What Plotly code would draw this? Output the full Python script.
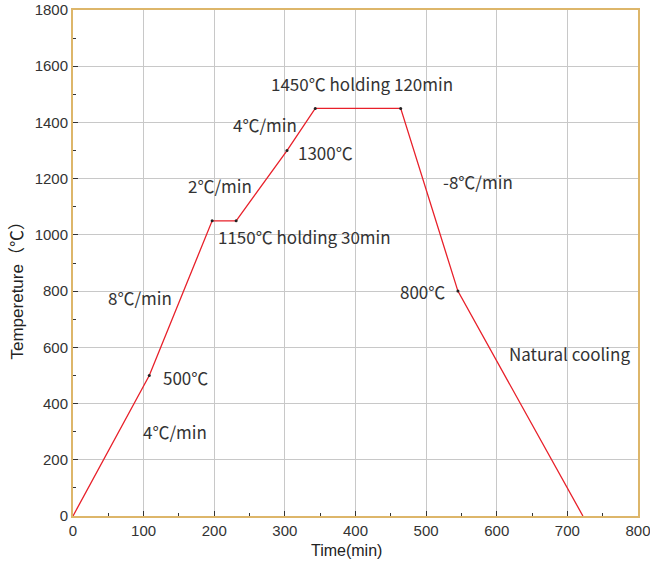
import plotly.graph_objects as go

time_min = [0, 108, 197, 231, 303, 343, 464, 545, 722]
temp_c = [0, 500, 1050, 1050, 1300, 1450, 1450, 800, 0]

ann_text = ["1450℃ holding 120min", "4℃/min", "1300℃", "2℃/min", "1150℃ holding 30min",
            "-8℃/min", "8℃/min", "800℃", "Natural cooling", "500℃", "4℃/min"]
ann_x = [409, 272, 316, 208, 203, 574, 95, 530, 703, 125, 145]
ann_y = [1537, 1391, 1292, 1174, 993, 1189, 779, 800, 577, 491, 302]
ann_anchor = ["center", "center", "left", "center", "left", "center", "center", "right", "center", "left", "center"]

x_ticks = [0, 100, 200, 300, 400, 500, 600, 700, 800]
y_ticks = [0, 200, 400, 600, 800, 1000, 1200, 1400, 1600, 1800]

x_title = "Time(min)"
y_title = "Tempereture（℃）"

fig = go.Figure()
fig.add_trace(go.Scatter(
    x=time_min, y=temp_c, mode="lines",
    line=dict(color="#E8202A", width=1.3), hoverinfo="skip", showlegend=False))
fig.add_trace(go.Scatter(
    x=time_min[1:-1], y=temp_c[1:-1], mode="markers",
    marker=dict(color="#222222", size=3), hoverinfo="skip", showlegend=False))

for t, x, y, a in zip(ann_text, ann_x, ann_y, ann_anchor):
    fig.add_annotation(x=x, y=y, text=t, showarrow=False, xanchor=a, yanchor="middle",
                       font=dict(family="Noto Sans CJK SC, sans-serif", size=17, color="#333333"))

fig.add_annotation(xref="paper", yref="paper", x=0.484, y=-0.0672, text=x_title, showarrow=False,
                   xanchor="center", yanchor="middle",
                   font=dict(family="Liberation Sans, Arial, sans-serif", size=16, color="#222222"))
fig.add_annotation(xref="paper", yref="paper", x=-0.0982, y=0.4526, text=y_title, showarrow=False,
                   textangle=-90, xanchor="center", yanchor="middle",
                   font=dict(family="Liberation Sans, Noto Sans CJK SC, sans-serif", size=17, color="#222222"))

frame = "#DDB66A"
tickfont = dict(family="Liberation Sans, Arial, sans-serif", size=15, color="#333333")
fig.update_xaxes(range=[0, 800], tickvals=x_ticks, showgrid=True, gridcolor="#C8C8C8", gridwidth=1,
                 showline=True, linecolor=frame, linewidth=2, mirror=True, automargin=False,
                 ticks="inside", ticklen=5, tickcolor="#333333", zeroline=False,
                 ticklabeloverflow="allow",
                 minor=dict(ticks="inside", ticklen=3, dtick=50, tickcolor="#333333", showgrid=False),
                 tickfont=tickfont)
fig.update_yaxes(range=[0, 1800], tickvals=y_ticks, showgrid=True, gridcolor="#C8C8C8", gridwidth=1,
                 showline=True, linecolor=frame, linewidth=2, mirror=True, automargin=False,
                 ticks="inside", ticklen=5, tickcolor="#333333", zeroline=False,
                 ticklabeloverflow="allow",
                 minor=dict(ticks="inside", ticklen=3, dtick=100, tickcolor="#333333", showgrid=False),
                 tickfont=tickfont)

fig.update_layout(width=650, height=566, margin=dict(l=73, r=12, t=10, b=50),
                  plot_bgcolor="white", paper_bgcolor="white")

fig.write_html("out.html", config={"displayModeBar": False},
               post_script="document.body.style.margin='0';document.body.style.overflow='hidden';")
